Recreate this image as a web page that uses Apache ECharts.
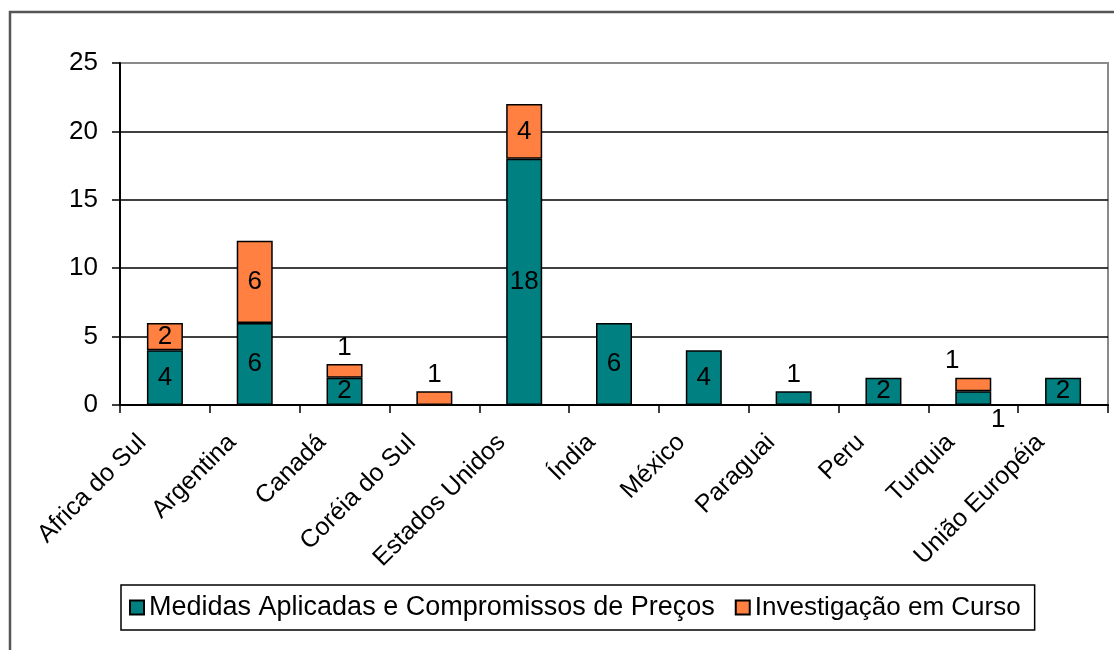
<!DOCTYPE html>
<html>
<head>
<meta charset="utf-8">
<script src="https://cdn.jsdelivr.net/npm/echarts@6/dist/echarts.min.js"></script>
<style>
html,body{margin:0;padding:0;background:#fff;}
#chart{width:1114px;height:650px;}
</style>
</head>
<body>
<div id="chart"></div>
<script>
const categories = ['Africa do Sul','Argentina','Canadá','Coréia do Sul','Estados Unidos','Índia','México','Paraguai','Peru','Turquia','União Européia'];
const medidas = [4, 6, 2, 0, 18, 6, 4, 1, 2, 1, 2];
const investigacao = [2, 6, 1, 1, 4, 0, 0, 0, 0, 1, 0];
const seriesNames = ['Medidas Aplicadas e Compromissos de Preços', 'Investigação em Curso'];
const yTicks = [0, 5, 10, 15, 20, 25];

const FONT = '"Liberation Sans", Arial, sans-serif';

function buildData(values, other, isTop) {
  return values.map((v, i) => {
    if (v === 0) return '-';
    const item = { value: v };
    if (v === 1) {
      if (other[i] === 1) {
        // both segments equal to 1: labels pushed outside the bar
        item.label = isTop
          ? { position: 'top', offset: [-21, 1] }
          : { position: 'inside', offset: [25, 22] };
      } else {
        item.label = { position: 'top', distance: 3 };
      }
    }
    return item;
  });
}

const chart = echarts.init(document.getElementById('chart'));
const labelStyle = { show: true, position: 'inside', color: '#000', fontSize: 26, fontFamily: FONT };

chart.setOption({
  backgroundColor: '#fff',
  animation: false,
  textStyle: { fontFamily: FONT },
  graphic: [{
    type: 'rect',
    shape: { x: 10, y: 12, width: 1130, height: 700 },
    style: { fill: 'none', stroke: '#555', lineWidth: 2.5 },
    z: 100
  }],
  grid: {
    left: 120, top: 63, width: 988, height: 342,
    show: true, borderColor: '#8a8a8a', borderWidth: 2, backgroundColor: 'transparent'
  },
  legend: {
    left: 121, top: 585,
    orient: 'horizontal',
    padding: [9, 14, 9, 8],
    itemGap: 20,
    itemWidth: 14, itemHeight: 14,
    borderColor: '#000', borderWidth: 1.5,
    backgroundColor: '#fff',
    textStyle: { color: '#000', fontSize: 26, fontFamily: FONT },
    data: [
      { name: seriesNames[0], icon: 'rect', textStyle: { fontSize: 27 } },
      { name: seriesNames[1], icon: 'rect', textStyle: { fontSize: 26 } }
    ]
  },
  xAxis: {
    type: 'category',
    data: categories,
    boundaryGap: true,
    axisLine: { lineStyle: { color: '#000', width: 2 } },
    axisTick: { show: true, length: 8, lineStyle: { color: '#000', width: 1.5 } },
    axisLabel: { interval: 0, rotate: 45, margin: 11, padding: [0, 32, 0, 0], color: '#000', fontSize: 25, fontFamily: FONT },
    splitLine: { show: false }
  },
  yAxis: {
    type: 'value',
    min: yTicks[0], max: yTicks[yTicks.length - 1], interval: yTicks[1] - yTicks[0],
    axisLine: { show: true, lineStyle: { color: '#000', width: 2 } },
    axisTick: { show: true, length: 8, lineStyle: { color: '#000', width: 1.5 } },
    axisLabel: { margin: 22, color: '#000', fontSize: 26, fontFamily: FONT },
    splitLine: { show: true, showMaxLine: false, showMinLine: false, lineStyle: { color: '#000', width: 1.5 } }
  },
  series: [
    {
      name: seriesNames[0], type: 'bar', stack: 'total', barWidth: 36,
      itemStyle: { color: '#008080', borderColor: '#000', borderWidth: 1.5 },
      label: labelStyle,
      data: buildData(medidas, investigacao, false)
    },
    {
      name: seriesNames[1], type: 'bar', stack: 'total', barWidth: 36,
      itemStyle: { color: '#ff8040', borderColor: '#000', borderWidth: 1.5 },
      label: labelStyle,
      data: buildData(investigacao, medidas, true)
    }
  ]
});
</script>
</body>
</html>
